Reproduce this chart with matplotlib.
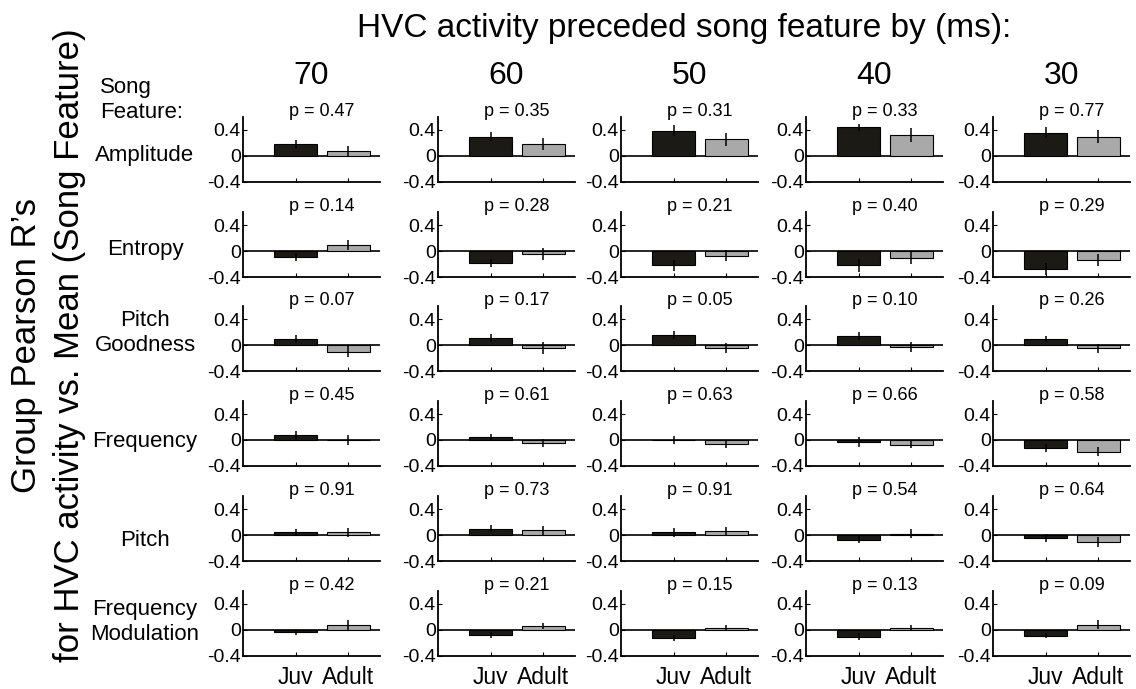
import numpy as np
import matplotlib
matplotlib.use('Agg')
import matplotlib.pyplot as plt

plt.rcParams['font.family'] = ['Liberation Sans', 'DejaVu Sans']

lags = ['70', '60', '50', '40', '30']
features = ['Amplitude', 'Entropy', 'Pitch\nGoodness', 'Frequency', 'Pitch',
            'Frequency\nModulation']
groups = ['Juv', 'Adult']

# mean Pearson R per feature (rows) and lag (columns)
juv_r = [[0.18, 0.30, 0.39, 0.44, 0.36],
         [-0.09, -0.18, -0.22, -0.22, -0.28],
         [0.10, 0.11, 0.15, 0.14, 0.09],
         [0.08, 0.04, 0.00, -0.03, -0.12],
         [0.05, 0.10, 0.04, -0.07, -0.05],
         [-0.03, -0.08, -0.12, -0.10, -0.09]]
juv_err = [[0.07, 0.07, 0.08, 0.06, 0.09],
           [0.06, 0.06, 0.08, 0.10, 0.09],
           [0.05, 0.06, 0.06, 0.06, 0.05],
           [0.06, 0.06, 0.06, 0.07, 0.06],
           [0.05, 0.06, 0.07, 0.06, 0.06],
           [0.04, 0.05, 0.05, 0.05, 0.04]]
adult_r = [[0.08, 0.19, 0.26, 0.32, 0.30],
           [0.09, -0.05, -0.07, -0.11, -0.14],
           [-0.10, -0.05, -0.05, -0.03, -0.05],
           [0.00, -0.04, -0.06, -0.07, -0.18],
           [0.04, 0.07, 0.06, 0.02, -0.11],
           [0.08, 0.06, 0.03, 0.03, 0.08]]
adult_err = [[0.08, 0.09, 0.10, 0.11, 0.10],
             [0.08, 0.09, 0.09, 0.09, 0.09],
             [0.09, 0.09, 0.08, 0.07, 0.07],
             [0.07, 0.06, 0.06, 0.06, 0.07],
             [0.07, 0.07, 0.07, 0.07, 0.08],
             [0.08, 0.05, 0.04, 0.04, 0.07]]
p_vals = [['0.47', '0.35', '0.31', '0.33', '0.77'],
          ['0.14', '0.28', '0.21', '0.40', '0.29'],
          ['0.07', '0.17', '0.05', '0.10', '0.26'],
          ['0.45', '0.61', '0.63', '0.66', '0.58'],
          ['0.91', '0.73', '0.91', '0.54', '0.64'],
          ['0.42', '0.21', '0.15', '0.13', '0.09']]

W, H = 1136, 689
fig = plt.figure(figsize=(W / 100, H / 100), dpi=100)

col_left = [243, 438, 621, 806, 993]
row_bottom = [182, 277, 371, 466, 561, 656]
ax_w, ax_h = 137, 65
x = np.array([1, 2])

for i in range(len(features)):
    for j in range(len(lags)):
        ax = fig.add_axes([col_left[j] / W, 1 - row_bottom[i] / H, ax_w / W, ax_h / H])
        vals = [juv_r[i][j], adult_r[i][j]]
        errs = [juv_err[i][j], adult_err[i][j]]
        ax.bar(x, vals, width=0.82, color=['#1b1a15', '#a9a9a9'],
               edgecolor='black', linewidth=0.8, zorder=2)
        ax.errorbar(x, vals, yerr=errs, fmt='none', ecolor='black',
                    elinewidth=1.1, capsize=0, zorder=3)
        ax.axhline(0, color='black', lw=1.2, zorder=1)
        ax.set_xlim(0, 2.6)
        ax.set_ylim(-0.4, 0.6)
        ax.set_yticks([-0.4, 0, 0.4])
        ax.set_yticklabels(['-0.4', '0', '0.4'])
        ax.set_xticks(x)
        if i == len(features) - 1:
            ax.set_xticklabels(groups, fontsize=16.5)
            ax.tick_params(axis='x', pad=7)
        else:
            ax.set_xticklabels([])
        for s in ['top', 'right']:
            ax.spines[s].set_visible(False)
        for s in ['left', 'bottom']:
            ax.spines[s].set_linewidth(1.3)
        ax.tick_params(direction='in', length=3)
        ax.tick_params(axis='y', labelsize=14, pad=1.5)
        ax.text(1.5, 0.61, 'p = ' + p_vals[i][j], ha='center', va='baseline',
                fontsize=13)

# column titles
for j, lag in enumerate(lags):
    cx = (col_left[j] + ax_w / 2) / W
    fig.text(cx, 1 - 76 / H, lag, ha='center', va='center', fontsize=23)

fig.text(684 / W, 1 - 28 / H, 'HVC activity preceded song feature by (ms):',
         ha='center', va='center', fontsize=24)

# row labels
row_cy = [155, 250, 333, 442, 540, 622]
for i, f in enumerate(features):
    fig.text(145 / W, 1 - row_cy[i] / H, f, ha='center', va='center',
             fontsize=16, linespacing=1.25)
fig.text(100 / W, 1 - 100 / H, 'Song\nFeature:', ha='left', va='center',
         fontsize=16, linespacing=1.25)

fig.text(27 / W, 1 - 346 / H, "Group Pearson R\u2019s", rotation=90,
         ha='center', va='center', fontsize=25)
fig.text(70 / W, 1 - 345 / H, 'for HVC activity vs. Mean (Song Feature)',
         rotation=90, ha='center', va='center', fontsize=25)

fig.savefig('out.png', dpi=100)
